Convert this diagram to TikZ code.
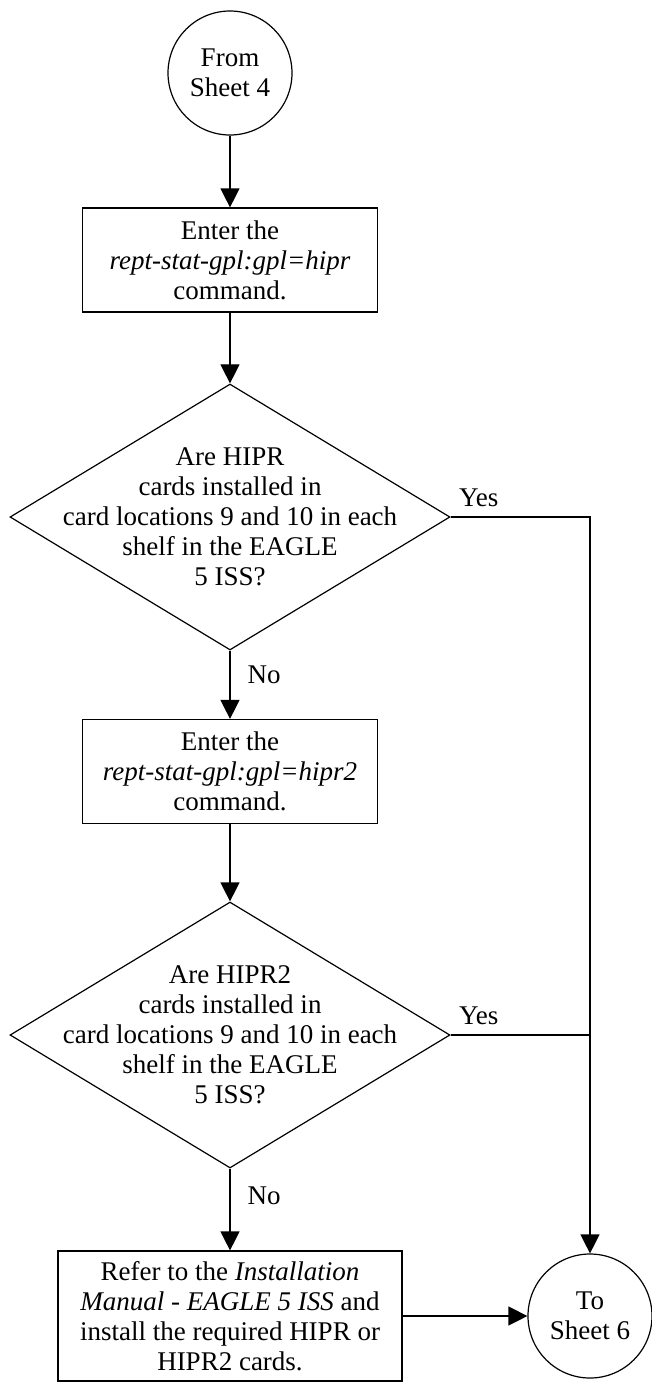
\documentclass[tikz,border=0pt]{standalone}
\usepackage{fontspec}
\setmainfont{Liberation Serif}
\usetikzlibrary{shapes.geometric,arrows.meta}

\begin{document}
\begin{tikzpicture}[x=0.5pt,y=-0.5pt,line width=0.6pt,font=\fontsize{13.5}{15}\selectfont,
  sheetRef/.style={draw,circle,minimum size=62pt,inner sep=0pt,align=center},
  cmdBox/.style={draw,rectangle,minimum width=147.5pt,minimum height=52pt,inner sep=0pt,align=center},
  decision/.style={draw,diamond,minimum width=220pt,minimum height=133pt,inner sep=0pt},
  flow/.style={-{Triangle[length=9.5pt,width=9.5pt]}},
  noLabel/.style={inner sep=0pt,anchor=west,xshift=8.5pt},
  yesLabel/.style={inner sep=0pt,anchor=south west,xshift=4pt,yshift=5pt}]
\useasboundingbox (0,0) rectangle (652,1382);
\node[sheetRef] (from4) at (230,73) {From\\Sheet 4};
\node[cmdBox] (gplHipr) at (230,260) {Enter the\\\textit{rept-stat-gpl:gpl=hipr}\\command.};
\node[decision] (hiprCheck) at (230,517) {};
\node[align=center,inner sep=0pt] (hiprText) at (hiprCheck) {Are HIPR\\cards installed in\\card locations 9 and 10 in each\\shelf in the EAGLE\\5 ISS?};
\node[cmdBox] (gplHipr2) at (230,771.5) {Enter the\\\textit{rept-stat-gpl:gpl=hipr2}\\command.};
\node[decision] (hipr2Check) at (230,1035) {};
\node[align=center,inner sep=0pt] (hipr2Text) at (hipr2Check) {Are HIPR2\\cards installed in\\card locations 9 and 10 in each\\shelf in the EAGLE\\5 ISS?};
\node[cmdBox,minimum width=172pt,minimum height=65pt] (installRef) at (230,1316) {Refer to the \textit{Installation}\\\textit{Manual - EAGLE 5 ISS} and\\install the required HIPR or\\HIPR2 cards.};
\node[sheetRef] (to6) at (590,1316) {To\\Sheet 6};
\draw[flow] (from4) -- (gplHipr);
\draw[flow] (gplHipr) -- (hiprCheck);
\draw[flow] (hiprCheck) -- node[noLabel,pos=0.36] {No} (gplHipr2);
\draw[flow] (hiprCheck.east) -- node[yesLabel,pos=0] {Yes} (hiprCheck.east -| to6) -- (to6);
\draw[flow] (gplHipr2) -- (hipr2Check);
\draw (hipr2Check.east) -- node[yesLabel,pos=0] {Yes} (hipr2Check.east -| to6);
\draw[flow] (hipr2Check) -- node[noLabel,pos=0.33] {No} (installRef);
\draw[flow] (installRef) -- (to6);
\end{tikzpicture}
\end{document}
